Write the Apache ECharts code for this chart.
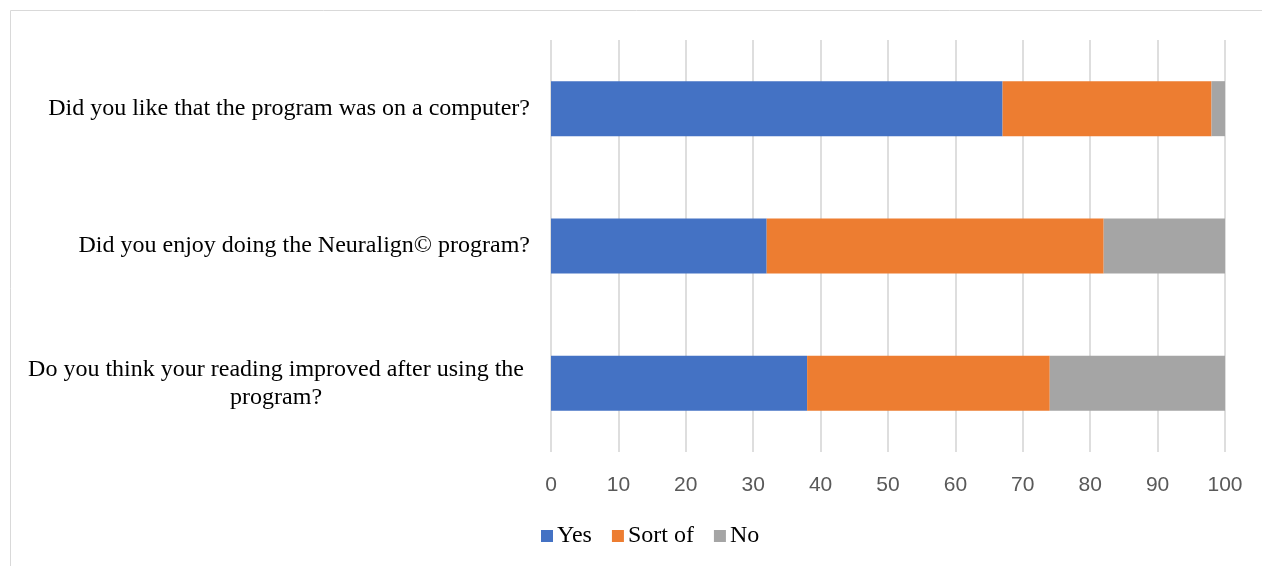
<!DOCTYPE html>
<html>
<head>
<meta charset="utf-8">
<script src="https://cdn.jsdelivr.net/npm/echarts@6/dist/echarts.min.js"></script>
<style>
  html, body { margin: 0; padding: 0; background: #fff; }
  #chart { width: 1262px; height: 566px; }
</style>
</head>
<body>
<div id="chart"></div>
<script>
// Survey questions, listed top to bottom
const questions = [
  'Did you like that the program was on a computer?',
  'Did you enjoy doing the Neuralign\u00A9 program?',
  'Do you think your reading improved after using the\nprogram?'
];
const seriesNames = ['Yes', 'Sort of', 'No'];
const yesValues = [67, 32, 38];
const sortOfValues = [31, 50, 36];
const noValues = [2, 18, 26];
const xTicks = [0, 10, 20, 30, 40, 50, 60, 70, 80, 90, 100];

const colors = ['#4472C4', '#ED7D31', '#A5A5A5'];
const serif = '"Liberation Serif", "Times New Roman", serif';
const sans = '"Liberation Sans", Arial, sans-serif';

const chart = echarts.init(document.getElementById('chart'));

function makeSeries(name, values, color) {
  return {
    name: name,
    type: 'bar',
    stack: 'total',
    data: values,
    barWidth: 55,
    itemStyle: { color: color },
    emphasis: { disabled: true }
  };
}

chart.setOption({
  animation: false,
  color: colors,
  graphic: [{
    type: 'rect',
    shape: { x: 10.5, y: 10.5, width: 1400, height: 700 },
    style: { fill: 'none', stroke: '#d9d9d9', lineWidth: 1 },
    silent: true,
    z: -10
  }],
  grid: { left: 551, right: 37, top: 40, bottom: 114 },
  xAxis: {
    type: 'value',
    min: xTicks[0],
    max: xTicks[xTicks.length - 1],
    interval: xTicks[1] - xTicks[0],
    axisLine: { show: false },
    axisTick: { show: false },
    splitLine: { show: true, lineStyle: { color: '#dedede', width: 2 } },
    axisLabel: {
      margin: 23,
      color: '#595959',
      fontSize: 21,
      fontFamily: sans,
      formatter: function (v) { return xTicks.indexOf(v) >= 0 ? String(v) : ''; }
    }
  },
  yAxis: {
    type: 'category',
    data: questions,
    inverse: true,
    axisLine: { show: false },
    axisTick: { show: false },
    splitLine: { show: false },
    axisLabel: {
      margin: 21,
      formatter: function (v) {
        const lines = v.split('\n');
        // wrapped labels sit a little further from the axis
        const style = lines.length > 1 ? 'w' : 'q';
        return lines.map(function (line) { return '{' + style + '|' + line + '}'; }).join('\n');
      },
      rich: {
        q: {
          align: 'center',
          color: '#000',
          fontSize: 24,
          fontFamily: serif,
          lineHeight: 28
        },
        w: {
          align: 'center',
          color: '#000',
          fontSize: 24,
          fontFamily: serif,
          lineHeight: 28,
          padding: [0, 6, 0, 0]
        }
      }
    }
  },
  legend: {
    data: seriesNames,
    left: 536,
    top: 519,
    icon: 'rect',
    itemWidth: 12,
    itemHeight: 12,
    itemGap: 20,
    textStyle: { color: '#000', fontSize: 24, fontFamily: serif, padding: [0, 0, 0, -1] }
  },
  series: [
    makeSeries(seriesNames[0], yesValues, colors[0]),
    makeSeries(seriesNames[1], sortOfValues, colors[1]),
    makeSeries(seriesNames[2], noValues, colors[2])
  ]
});
</script>
</body>
</html>
